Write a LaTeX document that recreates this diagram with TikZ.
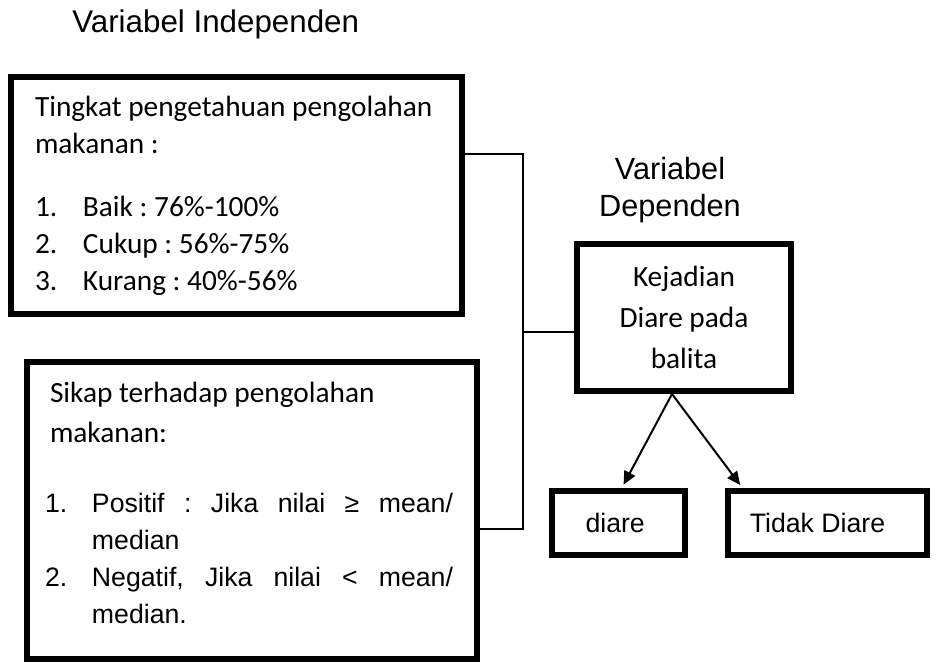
\documentclass[tikz,border=0pt]{standalone}
\usepackage{fontspec}
\setmainfont{Carlito}
\newfontfamily\arialfont{Liberation Sans}
\usetikzlibrary{arrows.meta}

% normal word spaces inside aligned nodes
\newcommand{\wordgaps}{\spaceskip=0pt\xspaceskip=0pt\frenchspacing}

\tikzset{
	thickbox/.style={draw, rectangle, line width=5pt, inner ysep=0pt},
	bus/.style={line width=1.1pt},
	branch/.style={-{Triangle[length=10pt,width=9pt]}, line width=1.5pt, shorten >=2.5pt}
}

\begin{document}
\begin{tikzpicture}[x=0.75pt, y=-0.75pt]
	\useasboundingbox (0,0) rectangle (938,663);
	% titles
	\node [anchor=base west, inner sep=0pt, font=\arialfont\fontsize{23.5pt}{27.75pt}\selectfont] (indep) at (72,33) {Variabel Independen};
	\node [align=center, inner sep=0pt, font=\arialfont\fontsize{23pt}{27.75pt}\selectfont] (dep) at (670,190.5) {Variabel\\Dependen};
	% independent boxes
	\node [thickbox, text width=302.25pt, inner xsep=18pt, minimum height=177.75pt, align=left, font=\fontsize{22pt}{27.75pt}\selectfont] (know) at (236.5,195.5) {\wordgaps\mbox{Tingkat pengetahuan pengolahan}\\ makanan :\\[19.5pt] \makebox[36pt][l]{1.}Baik : 76\%-100\%\\ \makebox[36pt][l]{2.}Cukup : 56\%-75\%\\ \makebox[36pt][l]{3.}Kurang : 40\%-56\%};
	\node [thickbox, text width=310.5pt, inner xsep=13.5pt, minimum height=222.75pt, align=left, font=\fontsize{22pt}{27.75pt}\selectfont] (attitude) at (252,510.5) {\wordgaps\hspace*{3.75pt}Sikap terhadap pengolahan\\[2.25pt] \hspace*{3.75pt}makanan:\\[24.75pt] {\arialfont\fontsize{20pt}{27.75pt}\selectfont\makebox[35.25pt][l]{1.}\makebox[270.75pt][s]{Positif : Jika nilai ≥ mean/}}\\ {\arialfont\fontsize{20pt}{27.75pt}\selectfont\hspace*{35.25pt}median}\\ {\arialfont\fontsize{20pt}{27.75pt}\selectfont\makebox[35.25pt][l]{2.}\makebox[270.75pt][s]{Negatif, Jika nilai < mean/}}\\ {\arialfont\fontsize{20pt}{27.75pt}\selectfont\hspace*{35.25pt}median.\rule[-11.25pt]{0pt}{11.25pt}}};
	% dependent boxes
	\node [thickbox, line width=4.5pt, minimum width=160.5pt, minimum height=110.25pt, align=center, font=\fontsize{22pt}{30.75pt}\selectfont] (outcome) at (684,317.5) {\wordgaps Kejadian\\Diare pada\\balita};
	\node [thickbox, minimum width=99.75pt, minimum height=48pt, font=\arialfont\fontsize{20pt}{24pt}\selectfont] (yes) at (618.5,523) {diare\hspace*{5pt}};
	\node [thickbox, minimum width=149.25pt, minimum height=48pt, font=\arialfont\fontsize{20pt}{24pt}\selectfont] (no) at (827.5,523) {Tidak Diare\hspace*{15pt}};
	% connectors
	\coordinate (bustop) at (523,154);
	\coordinate (busmid) at (523,332);
	\coordinate (busbot) at (523,529);
	\draw [bus] (bustop -| know.east) -- (bustop) -- (busbot) -- (busbot -| attitude.east);
	\draw [bus] (busmid) -- (busmid -| outcome.west);
	\coordinate (fork) at ([xshift=-9pt]outcome.south);
	\draw [branch] (fork) -- ([xshift=2.6pt]yes.north);
	\draw [branch] (fork) -- ([xshift=-64pt]no.north);
\end{tikzpicture}
\end{document}
